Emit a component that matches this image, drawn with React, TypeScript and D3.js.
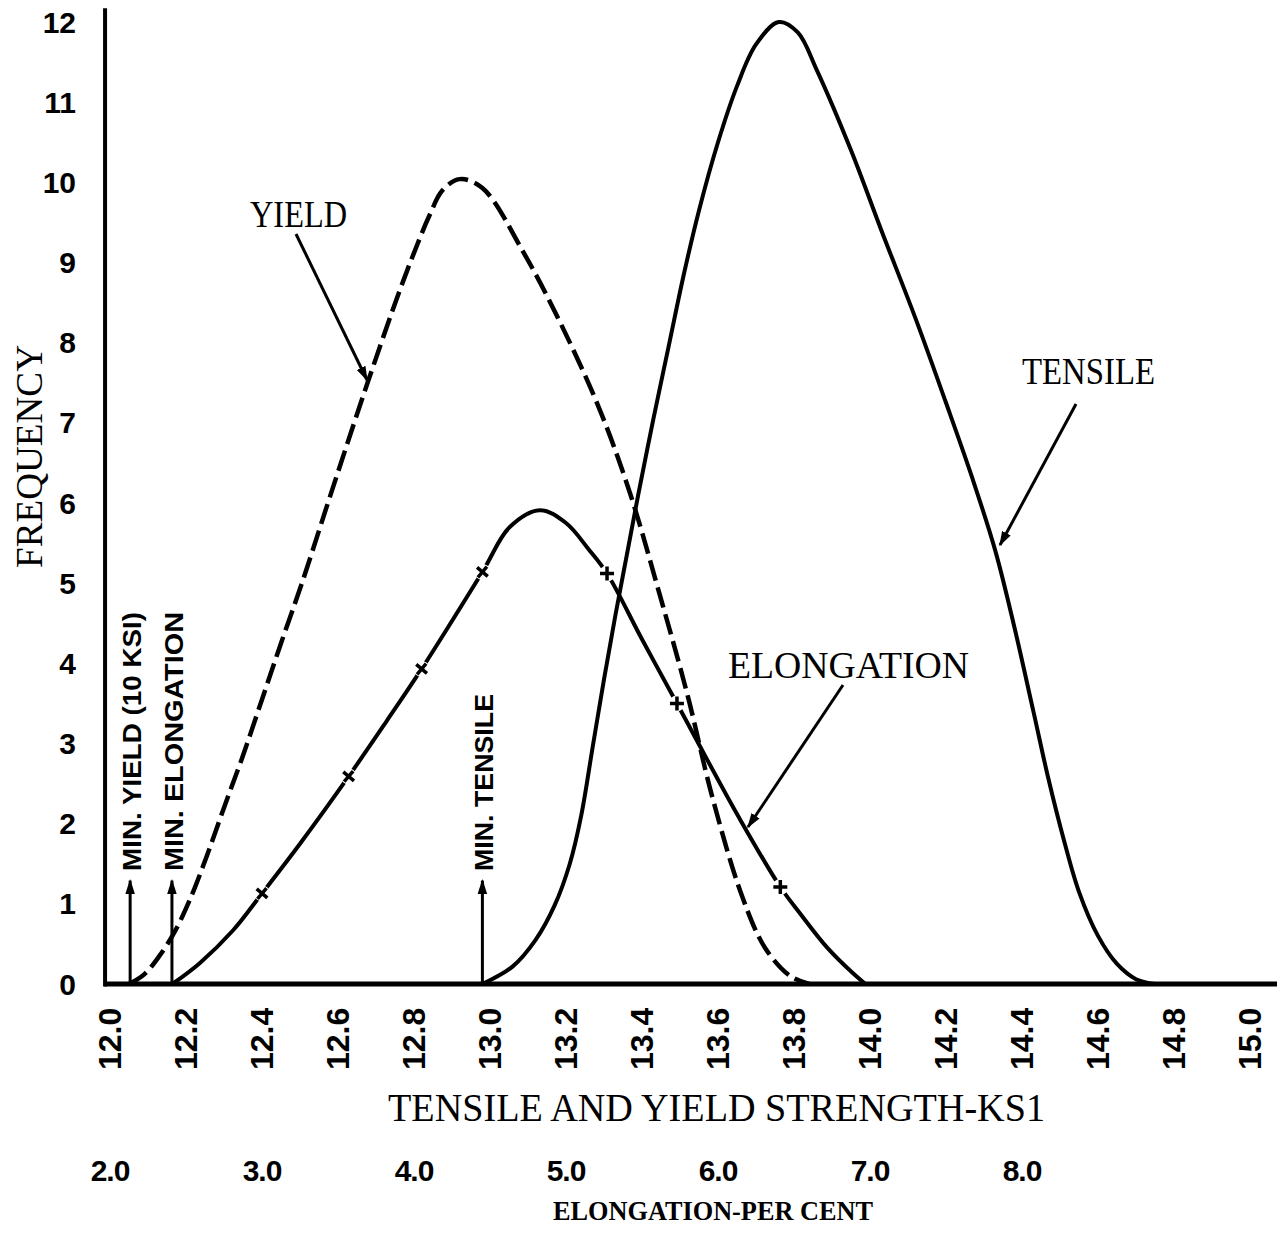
import React, { useRef, useEffect } from "react";
import * as d3 from "d3";

// axis ticks
const freqTicks = [0, 1, 2, 3, 4, 5, 6, 7, 8, 9, 10, 11, 12];
const ksiTicks = [12.0, 12.2, 12.4, 12.6, 12.8, 13.0, 13.2, 13.4, 13.6, 13.8, 14.0, 14.2, 14.4, 14.6, 14.8, 15.0];
const elongTicks = [2, 3, 4, 5, 6, 7, 8];

// yield strength distribution (ksi, frequency) - dashed
const yieldKsi = [12.05, 12.09, 12.13, 12.17, 12.21, 12.255, 12.3, 12.35, 12.4, 12.45, 12.505, 12.57, 12.63, 12.68, 12.76, 12.8, 12.84, 12.875, 12.92, 12.98, 13.09, 13.19, 13.29, 13.37, 13.447, 13.52, 13.584, 13.663, 13.724, 13.79, 13.84];
const yieldFreq = [0, 0.12, 0.35, 0.65, 1.05, 1.6, 2.2, 2.85, 3.55, 4.25, 5.0, 5.95, 6.82, 7.53, 8.62, 9.12, 9.58, 9.9, 10.04, 9.93, 9.11, 8.2, 7.15, 6.1, 4.85, 3.6, 2.35, 1.1, 0.45, 0.1, 0];

// tensile strength distribution (ksi, frequency)
const tensileKsi = [12.98, 13.06, 13.12, 13.17, 13.21, 13.24, 13.27, 13.3, 13.33, 13.36, 13.39, 13.43, 13.47, 13.51, 13.55, 13.6, 13.65, 13.7, 13.76, 13.81, 13.86, 13.95, 14.03, 14.12, 14.2, 14.27, 14.33, 14.38, 14.43, 14.47, 14.51, 14.55, 14.6, 14.65, 14.7, 14.75];
const tensileFreq = [0, 0.22, 0.55, 0.98, 1.5, 2.1, 2.95, 3.8, 4.6, 5.35, 6.1, 7.05, 7.95, 8.85, 9.65, 10.5, 11.2, 11.72, 12.0, 11.87, 11.4, 10.4, 9.4, 8.3, 7.25, 6.3, 5.4, 4.45, 3.4, 2.55, 1.8, 1.15, 0.6, 0.25, 0.06, 0];

// elongation distribution (per cent, frequency)
const elongPct = [2.41, 2.59, 2.81, 3.0, 3.25, 3.57, 3.82, 4.05, 4.45, 4.63, 4.83, 5.0, 5.15, 5.27, 5.5, 5.73, 5.86, 6.14, 6.41, 6.54, 6.72, 6.89, 6.97];
const elongFreq = [0, 0.26, 0.67, 1.13, 1.75, 2.59, 3.28, 3.93, 5.14, 5.7, 5.91, 5.75, 5.42, 5.12, 4.3, 3.5, 3.04, 2.07, 1.21, 0.88, 0.45, 0.13, 0];
const elongMarkPct = [3.0, 3.57, 4.05, 4.45, 5.27, 5.73, 6.41];
const elongMarkFreq = [1.13, 2.59, 3.93, 5.14, 5.12, 3.5, 1.21];

// minimum spec arrows
const minLabels = ["MIN. YIELD (10 KSI)", "MIN. ELONGATION", "MIN. TENSILE"];
const minKsi = [12.053, 12.163, 12.98];

const App = () => {
  const container = useRef(null);

  const width = 1277;
  const height = 1235;

  useEffect(() => {
    const svg = d3.select(container.current);
    svg.selectAll("*").remove();

    const xScale = d3.scaleLinear().domain([12, 15]).range([110, 1250]);
    const eScale = d3.scaleLinear().domain([2, 8]).range([xScale(12), xScale(14.4)]);
    const yScale = d3.scaleLinear().domain([0, 12]).range([984, 22]);

    const serif = "'Liberation Serif', 'DejaVu Serif', serif";
    const sans = "'Liberation Sans', Arial, sans-serif";

    svg
      .append("defs")
      .append("marker")
      .attr("id", "arrowhead")
      .attr("viewBox", "0 0 10 10")
      .attr("refX", 9)
      .attr("refY", 5)
      .attr("markerWidth", 5)
      .attr("markerHeight", 5)
      .attr("orient", "auto")
      .append("path")
      .attr("d", "M0,1.8 L10,5 L0,8.2 z")
      .attr("fill", "black");

    // axes
    svg
      .append("line")
      .attr("x1", xScale(11.985))
      .attr("x2", xScale(15.08))
      .attr("y1", yScale(0))
      .attr("y2", yScale(0))
      .attr("stroke", "black")
      .attr("stroke-width", 5);

    svg
      .append("line")
      .attr("x1", xScale(11.987))
      .attr("x2", xScale(11.987))
      .attr("y1", yScale(-0.03))
      .attr("y2", yScale(12.17))
      .attr("stroke", "black")
      .attr("stroke-width", 4);

    svg
      .append("g")
      .selectAll("text")
      .data(freqTicks)
      .enter()
      .append("text")
      .attr("x", 76)
      .attr("y", d => yScale(d))
      .attr("text-anchor", "end")
      .attr("dominant-baseline", "central")
      .style("font-family", sans)
      .style("font-weight", "bold")
      .style("font-size", "30px")
      .text(d => d);

    svg
      .append("g")
      .selectAll("text")
      .data(ksiTicks)
      .enter()
      .append("text")
      .attr("transform", d => `translate(${xScale(d)}, 1070) rotate(-90)`)
      .attr("text-anchor", "start")
      .attr("dominant-baseline", "central")
      .style("font-family", sans)
      .style("font-weight", "bold")
      .style("font-size", "32px")
      .text(d => d3.format(".1f")(d));

    svg
      .append("g")
      .selectAll("text")
      .data(elongTicks)
      .enter()
      .append("text")
      .attr("x", d => eScale(d))
      .attr("y", 1181)
      .attr("text-anchor", "middle")
      .style("font-family", sans)
      .style("font-weight", "bold")
      .style("font-size", "30px")
      .style("letter-spacing", "-1px")
      .text(d => d3.format(".1f")(d));

    // axis titles
    svg
      .append("text")
      .attr("x", 388)
      .attr("y", 1121)
      .attr("textLength", 657)
      .attr("lengthAdjust", "spacingAndGlyphs")
      .style("font-family", serif)
      .style("font-size", "39px")
      .text("TENSILE AND YIELD STRENGTH-KS1");

    svg
      .append("text")
      .attr("x", 553)
      .attr("y", 1220)
      .attr("textLength", 320)
      .attr("lengthAdjust", "spacingAndGlyphs")
      .style("font-family", serif)
      .style("font-weight", "bold")
      .style("font-size", "27px")
      .text("ELONGATION-PER CENT");

    svg
      .append("text")
      .attr("transform", "translate(42, 568) rotate(-90)")
      .attr("textLength", 223)
      .attr("lengthAdjust", "spacingAndGlyphs")
      .style("font-family", serif)
      .style("font-size", "38px")
      .text("FREQUENCY");

    // curves
    const ksiLine = d3
      .line()
      .x(d => xScale(d[0]))
      .y(d => yScale(d[1]))
      .curve(d3.curveCatmullRom.alpha(0.5));

    const elongLine = d3
      .line()
      .x(d => eScale(d[0]))
      .y(d => yScale(d[1]))
      .curve(d3.curveCatmullRom.alpha(0.5));

    svg
      .append("path")
      .attr("d", ksiLine(tensileKsi.map((v, i) => [v, tensileFreq[i]])))
      .attr("fill", "none")
      .attr("stroke", "black")
      .attr("stroke-width", 4);

    svg
      .append("path")
      .attr("d", ksiLine(yieldKsi.map((v, i) => [v, yieldFreq[i]])))
      .attr("fill", "none")
      .attr("stroke", "black")
      .attr("stroke-width", 4.5)
      .attr("stroke-dasharray", "21,7");

    svg
      .append("path")
      .attr("d", elongLine(elongPct.map((v, i) => [v, elongFreq[i]])))
      .attr("fill", "none")
      .attr("stroke", "black")
      .attr("stroke-width", 4);

    const marks = svg
      .append("g")
      .selectAll("g")
      .data(elongMarkPct.map((v, i) => ({ v, f: elongMarkFreq[i], i })))
      .enter()
      .append("g")
      .attr("transform", d => `translate(${eScale(d.v)}, ${yScale(d.f)}) rotate(${d.i < 4 ? 40 : 0})`);

    marks.append("circle").attr("r", 8).attr("fill", "white");
    marks
      .append("path")
      .attr("d", "M-7,0 L7,0 M0,-7 L0,7")
      .attr("stroke", "black")
      .attr("stroke-width", 3.5);

    // minimum spec arrows and labels
    const mins = svg
      .append("g")
      .selectAll("g")
      .data(minLabels.map((label, i) => ({ label, v: minKsi[i] })))
      .enter()
      .append("g");

    mins
      .append("line")
      .attr("x1", d => xScale(d.v))
      .attr("x2", d => xScale(d.v))
      .attr("y1", yScale(0))
      .attr("y2", yScale(1.29))
      .attr("stroke", "black")
      .attr("stroke-width", 3)
      .attr("marker-end", "url(#arrowhead)");

    mins
      .append("text")
      .attr("transform", d => `translate(${xScale(d.v) + 2}, 871) rotate(-90)`)
      .attr("dominant-baseline", "central")
      .attr("textLength", d => (d.label.length > 13 ? 259 : 177))
      .attr("lengthAdjust", "spacingAndGlyphs")
      .style("font-family", sans)
      .style("font-weight", "bold")
      .style("font-size", "26px")
      .text(d => d.label);

    // curve labels with pointer arrows
    const labels = [
      { text: "YIELD", x: 250, y: 227, w: 97, x1: 296, y1: 234, x2: 367, y2: 380 },
      { text: "TENSILE", x: 1022, y: 384, w: 133, x1: 1076, y1: 404, x2: 1000, y2: 545 },
      { text: "ELONGATION", x: 728, y: 678, w: 241, x1: 843, y1: 685, x2: 748, y2: 827 },
    ];

    labels.forEach(l => {
      svg
        .append("text")
        .attr("x", l.x)
        .attr("y", l.y)
        .attr("textLength", l.w)
        .attr("lengthAdjust", "spacingAndGlyphs")
        .style("font-family", serif)
        .style("font-size", "38px")
        .text(l.text);
      svg
        .append("line")
        .attr("x1", l.x1)
        .attr("y1", l.y1)
        .attr("x2", l.x2)
        .attr("y2", l.y2)
        .attr("stroke", "black")
        .attr("stroke-width", 3)
        .attr("marker-end", "url(#arrowhead)");
    });
  }, []);

  return (
    <div style={{ position: "absolute", left: 0, top: 0, width: width, height: height, background: "white" }}>
      <svg ref={container} width={width} height={height} style={{ display: "block" }} />
    </div>
  );
};

export default App;
